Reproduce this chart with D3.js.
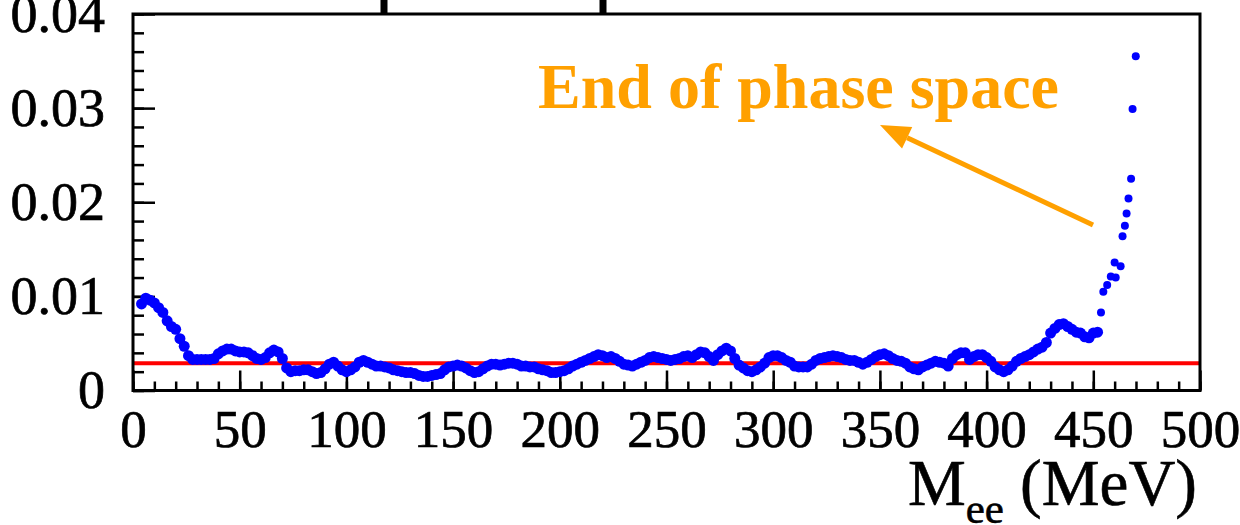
<!DOCTYPE html>
<html>
<head>
<meta charset="utf-8">
<script src="https://cdn.jsdelivr.net/npm/d3@7"></script>
<style>
  body { margin: 0; background: #fff; }
  svg { display: block; }
  text { font-family: "Liberation Serif", "Times New Roman", serif; }
</style>
</head>
<body>
<svg id="chart" width="1240" height="525"></svg>
<script>
// bin grid for the dense band of points (MeV)
const bandStart = 4;
const bandStep = 2;

// ratio, one value per 2 MeV bin from 4 to 452 MeV
const bandValues = [
  0.0092, 0.0098, 0.0096, 0.0093, 0.0088, 0.0083, 0.0074, 0.0068, 0.0065, 0.0055,
  0.0047, 0.0037, 0.0033, 0.0033, 0.0033, 0.0033, 0.0033, 0.0034, 0.0039, 0.0042,
  0.0044, 0.0044, 0.0042, 0.0041, 0.0041, 0.0040, 0.0037, 0.0034, 0.0033, 0.0035,
  0.0040, 0.0043, 0.0041, 0.0034, 0.0024, 0.0020, 0.0021, 0.0021, 0.0022, 0.0022,
  0.0020, 0.0018, 0.0019, 0.0023, 0.0028, 0.0030, 0.0026, 0.0022, 0.0020, 0.0022,
  0.0025, 0.0030, 0.0032, 0.0030, 0.0028, 0.0026, 0.0026, 0.0025, 0.0024, 0.0022,
  0.0021, 0.0020, 0.0019, 0.0019, 0.0018, 0.0016, 0.0015, 0.0015, 0.0016, 0.0017,
  0.0018, 0.0022, 0.0025, 0.0026, 0.0027, 0.0026, 0.0024, 0.0021, 0.0019, 0.0020,
  0.0023, 0.0026, 0.0028, 0.0028, 0.0027, 0.0028, 0.0029, 0.0029, 0.0028, 0.0026,
  0.0026, 0.0025, 0.0025, 0.0023, 0.0022, 0.0021, 0.0019, 0.0019, 0.0020, 0.0021,
  0.0023, 0.0026, 0.0028, 0.0030, 0.0032, 0.0034, 0.0036, 0.0038, 0.0037, 0.0035,
  0.0036, 0.0034, 0.0031, 0.0028, 0.0027, 0.0026, 0.0028, 0.0030, 0.0032, 0.0035,
  0.0036, 0.0035, 0.0034, 0.0033, 0.0032, 0.0033, 0.0034, 0.0036, 0.0037, 0.0035,
  0.0038, 0.0041, 0.0040, 0.0036, 0.0032, 0.0038, 0.0042, 0.0045, 0.0042, 0.0034,
  0.0027, 0.0024, 0.0021, 0.0020, 0.0022, 0.0025, 0.0029, 0.0035, 0.0037, 0.0037,
  0.0035, 0.0032, 0.0030, 0.0026, 0.0025, 0.0025, 0.0025, 0.0028, 0.0032, 0.0034,
  0.0035, 0.0036, 0.0037, 0.0036, 0.0035, 0.0033, 0.0032, 0.0032, 0.0030, 0.0028,
  0.0030, 0.0033, 0.0036, 0.0038, 0.0039, 0.0037, 0.0034, 0.0032, 0.0031, 0.0029,
  0.0025, 0.0023, 0.0022, 0.0025, 0.0027, 0.0029, 0.0031, 0.0030, 0.0029, 0.0026,
  0.0034, 0.0038, 0.0040, 0.0040, 0.0033, 0.0036, 0.0038, 0.0038, 0.0035, 0.0031,
  0.0025, 0.0022, 0.0020, 0.0022, 0.0026, 0.0031, 0.0034, 0.0036, 0.0038, 0.0041,
  0.0044, 0.0046, 0.0051, 0.0061, 0.0066, 0.0070, 0.0071, 0.0068, 0.0065, 0.0062,
  0.0061, 0.0057, 0.0056, 0.0061, 0.0062
];

// the sparse points near the end of phase space
const tailMee = [453.6, 454.7, 456.5, 458.2, 460.5, 460.0, 462.8, 463.7, 464.8, 465.6, 466.5, 467.7, 468.4, 469.9];
const tailValues = [0.0083, 0.0105, 0.0112, 0.0121, 0.0120, 0.0136, 0.0132, 0.0164, 0.0175, 0.0188, 0.0204, 0.0225, 0.0299, 0.0355];

const refLevel = 0.0029;

const xTicks = [0, 50, 100, 150, 200, 250, 300, 350, 400, 450, 500];
const yTicks = [0, 0.01, 0.02, 0.03, 0.04];
const yTickLabels = ["0", "0.01", "0.02", "0.03", "0.04"];

const annotation = "End of phase space";

const svg = d3.select("#chart");
const fLeft = 133, fRight = 1200, fTop = 14, fBottom = 390.5;

const x = d3.scaleLinear().domain([0, 500]).range([fLeft, fRight]);
const y = d3.scaleLinear().domain([0, 0.04]).range([fBottom, fTop]);

svg.append("rect").attr("width", 1240).attr("height", 525).attr("fill", "#fff");

// bits of the cropped title poking in at the top
[384, 603].forEach(px => {
  svg.append("rect")
    .attr("x", px - 3.5).attr("y", 0)
    .attr("width", 7).attr("height", fTop)
    .attr("fill", "#000");
});

// minor ticks
svg.append("g")
  .attr("transform", `translate(0,${fBottom})`)
  .call(d3.axisBottom(x).tickValues(d3.range(0, 501, 10)).tickSizeInner(-9).tickSizeOuter(0).tickFormat(""))
  .call(g => g.select(".domain").remove())
  .call(g => g.selectAll("line").attr("stroke", "#000").attr("stroke-width", 2.5));

svg.append("g")
  .attr("transform", `translate(${fLeft},0)`)
  .call(d3.axisLeft(y).tickValues(d3.range(0, 0.0401, 0.002)).tickSizeInner(-11).tickSizeOuter(0).tickFormat(""))
  .call(g => g.select(".domain").remove())
  .call(g => g.selectAll("line").attr("stroke", "#000").attr("stroke-width", 2.5));

// major ticks + labels
svg.append("g")
  .attr("transform", `translate(0,${fBottom})`)
  .call(d3.axisBottom(x).tickValues(xTicks).tickSizeInner(-20).tickSizeOuter(0).tickPadding(19))
  .call(g => g.select(".domain").remove())
  .call(g => g.selectAll("line").attr("stroke", "#000").attr("stroke-width", 2.5))
  .call(g => g.selectAll("text")
    .attr("fill", "#000").attr("stroke", "#000").attr("stroke-width", 0.7)
    .style("font-family", "'Liberation Serif', serif")
    .style("font-size", "53px"));

svg.append("g")
  .attr("transform", `translate(${fLeft},0)`)
  .call(d3.axisLeft(y).tickValues(yTicks).tickSizeInner(-22).tickSizeOuter(0).tickPadding(28)
    .tickFormat((d, i) => yTickLabels[i]))
  .call(g => g.select(".domain").remove())
  .call(g => g.selectAll("line").attr("stroke", "#000").attr("stroke-width", 2.5))
  .call(g => g.selectAll("text")
    .attr("fill", "#000").attr("stroke", "#000").attr("stroke-width", 0.7)
    .style("font-family", "'Liberation Serif', serif")
    .style("font-size", "54px"));

// reference line
svg.append("line")
  .attr("x1", x(0)).attr("x2", x(500))
  .attr("y1", y(refLevel)).attr("y2", y(refLevel))
  .attr("stroke", "#ff0000").attr("stroke-width", 4);

// points
const band = bandValues.map((v, i) => ({ m: bandStart + i * bandStep, v: v, r: 5.5 }));
const tail = tailMee.map((m, i) => ({ m: m, v: tailValues[i], r: 4 }));

svg.append("g")
  .selectAll("circle")
  .data(band.concat(tail))
  .enter()
  .append("circle")
  .attr("cx", d => x(d.m))
  .attr("cy", d => y(d.v))
  .attr("r", d => d.r)
  .attr("fill", "#0000ff");

// frame
svg.append("rect")
  .attr("x", fLeft).attr("y", fTop)
  .attr("width", fRight - fLeft).attr("height", fBottom - fTop)
  .attr("fill", "none").attr("stroke", "#000").attr("stroke-width", 3);

// axis title
const xt = svg.append("text")
  .attr("x", 1197).attr("y", 505)
  .attr("text-anchor", "end")
  .attr("fill", "#000").attr("stroke", "#000").attr("stroke-width", 0.6)
  .style("font-size", "65px");
xt.append("tspan").text("M");
xt.append("tspan").attr("dy", 18).style("font-size", "43px").text("ee");
xt.append("tspan").attr("dy", -18).text(" (MeV)");

// annotation with arrow
const orange = "#ffa000";
svg.append("text")
  .attr("x", 538).attr("y", 108)
  .attr("fill", orange)
  .style("font-size", "64px")
  .style("font-weight", "bold")
  .text(annotation);

const tip = [880, 125], tailEnd = [1093, 225];
const ang = Math.atan2(tailEnd[1] - tip[1], tailEnd[0] - tip[0]);
const headLen = 30, headHalf = 12;
const bx = tip[0] + headLen * Math.cos(ang), by = tip[1] + headLen * Math.sin(ang);

svg.append("line")
  .attr("x1", tailEnd[0]).attr("y1", tailEnd[1])
  .attr("x2", bx).attr("y2", by)
  .attr("stroke", orange).attr("stroke-width", 5);

svg.append("path")
  .attr("d", d3.line()([
    tip,
    [bx - headHalf * Math.sin(ang), by + headHalf * Math.cos(ang)],
    [bx + headHalf * Math.sin(ang), by - headHalf * Math.cos(ang)]
  ]) + "Z")
  .attr("fill", orange);
</script>
</body>
</html>
